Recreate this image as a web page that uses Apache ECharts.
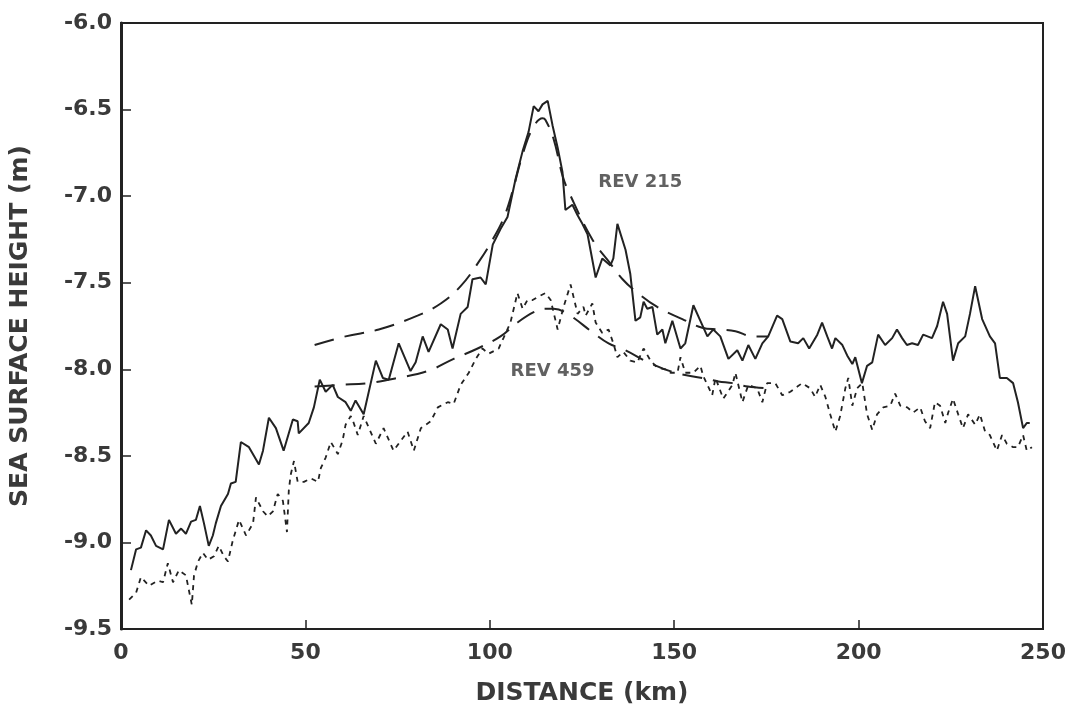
<!DOCTYPE html>
<html>
<head>
<meta charset="utf-8">
<script src="https://cdn.jsdelivr.net/npm/echarts@6/dist/echarts.min.js"></script>
<style>
html,body{margin:0;padding:0;background:#fff;}
#seaChart{width:1071px;height:711px;}
</style>
</head>
<body>
<div id="seaChart"></div>
<script>
// axis ticks
var xTicks = [0, 50, 100, 150, 200, 250];
var yTicks = [-9.5, -9.0, -8.5, -8.0, -7.5, -7.0, -6.5, -6.0];

// REV 215 altimeter track (solid)
var rev215Dist = [2.7,4.1,5.4,6.8,8.1,9.5,11.4,13.0,14.9,16.3,17.6,19.0,20.3,21.4,22.5,23.8,24.9,25.7,27.1,29.0,29.8,31.1,32.5,34.7,37.4,38.5,40.1,42.0,44.1,46.6,47.9,48.2,50.9,52.3,53.9,55.5,57.4,58.8,60.9,62.3,63.6,65.8,69.1,71.0,72.6,75.3,78.5,79.9,81.8,83.4,86.7,88.6,89.9,92.1,94.0,95.3,97.5,98.9,100.8,102.9,104.8,107.0,108.9,110.5,111.9,113.2,114.3,115.7,117.0,118.4,119.7,120.5,122.4,123.8,125.1,126.5,128.7,130.5,132.7,133.5,134.6,136.8,138.1,139.5,140.8,141.7,142.7,144.1,145.4,146.8,147.6,149.5,151.7,153.0,155.2,157.1,159.0,160.6,162.5,164.7,167.1,168.5,170.1,172.0,173.9,175.5,177.9,179.3,181.5,183.6,185.0,186.6,188.8,190.1,191.5,192.8,193.7,195.6,196.9,198.3,199.1,200.9,202.3,203.7,205.3,207.2,209.1,210.4,211.8,213.1,214.5,216.1,217.5,219.9,221.3,222.9,224.0,225.6,227.0,228.9,230.2,231.6,233.5,235.6,237.0,238.3,240.2,241.9,243.2,244.6,245.6,246.4];
var rev215Height = [-9.16,-9.04,-9.03,-8.93,-8.96,-9.02,-9.04,-8.87,-8.95,-8.92,-8.95,-8.88,-8.87,-8.79,-8.89,-9.02,-8.96,-8.89,-8.79,-8.72,-8.66,-8.65,-8.42,-8.45,-8.55,-8.47,-8.28,-8.34,-8.47,-8.29,-8.30,-8.37,-8.31,-8.22,-8.06,-8.13,-8.09,-8.16,-8.19,-8.24,-8.18,-8.26,-7.95,-8.05,-8.06,-7.85,-8.01,-7.96,-7.81,-7.90,-7.74,-7.77,-7.88,-7.68,-7.64,-7.48,-7.47,-7.51,-7.28,-7.19,-7.12,-6.90,-6.74,-6.63,-6.48,-6.51,-6.47,-6.45,-6.59,-6.72,-6.86,-7.08,-7.05,-7.11,-7.16,-7.22,-7.47,-7.36,-7.40,-7.36,-7.16,-7.31,-7.45,-7.72,-7.70,-7.61,-7.65,-7.64,-7.80,-7.77,-7.85,-7.72,-7.88,-7.85,-7.63,-7.72,-7.81,-7.77,-7.81,-7.94,-7.89,-7.95,-7.86,-7.94,-7.85,-7.81,-7.69,-7.71,-7.84,-7.85,-7.82,-7.88,-7.80,-7.73,-7.81,-7.88,-7.82,-7.86,-7.92,-7.97,-7.93,-8.08,-7.98,-7.96,-7.80,-7.86,-7.82,-7.77,-7.82,-7.86,-7.85,-7.86,-7.80,-7.82,-7.75,-7.61,-7.68,-7.95,-7.85,-7.81,-7.68,-7.52,-7.71,-7.81,-7.85,-8.05,-8.05,-8.08,-8.19,-8.34,-8.31,-8.31];

// REV 459 altimeter track (short dashes)
var rev459Dist = [2.2,4.1,5.4,7.6,10.0,11.4,12.7,14.1,15.7,17.6,19.2,19.8,20.9,22.2,23.6,25.2,26.5,27.9,29.0,30.3,32.0,33.9,35.8,36.6,38.5,39.8,41.2,42.5,43.9,45.0,45.5,46.0,46.9,47.9,49.6,51.5,53.4,54.2,55.5,56.9,58.8,60.1,60.9,62.3,63.1,64.2,65.8,69.1,71.2,73.9,77.7,79.4,81.3,84.0,85.9,88.6,90.2,92.1,94.3,96.2,98.0,99.7,102.4,103.7,105.6,107.5,108.9,110.2,111.6,113.2,115.1,116.5,118.4,120.0,121.9,123.8,125.4,126.0,127.8,128.7,130.5,132.2,133.5,134.6,136.2,138.1,140.0,141.7,143.6,145.4,147.6,149.0,150.9,151.7,153.0,155.2,157.1,157.9,160.3,161.2,163.3,165.8,166.6,168.5,170.1,172.5,173.9,175.2,177.4,179.3,181.5,183.4,184.7,186.9,188.2,189.6,191.0,192.3,193.7,195.0,196.4,197.2,198.3,199.6,201.0,202.3,203.7,205.0,206.7,208.6,209.9,211.3,213.2,214.8,216.7,218.0,219.4,220.7,222.1,223.5,224.3,225.6,227.0,228.3,229.7,231.6,232.9,234.3,235.6,237.5,238.9,240.2,241.9,243.2,244.6,245.6,247.0];
var rev459Height = [-9.33,-9.29,-9.20,-9.25,-9.22,-9.23,-9.12,-9.23,-9.16,-9.19,-9.36,-9.19,-9.11,-9.06,-9.10,-9.08,-9.02,-9.08,-9.11,-8.99,-8.87,-8.96,-8.89,-8.74,-8.82,-8.85,-8.82,-8.72,-8.76,-8.94,-8.70,-8.61,-8.53,-8.65,-8.65,-8.63,-8.65,-8.57,-8.51,-8.42,-8.49,-8.41,-8.32,-8.27,-8.31,-8.38,-8.27,-8.43,-8.34,-8.47,-8.36,-8.47,-8.34,-8.30,-8.22,-8.19,-8.20,-8.09,-8.02,-7.94,-7.88,-7.91,-7.88,-7.82,-7.73,-7.56,-7.65,-7.60,-7.60,-7.58,-7.56,-7.60,-7.77,-7.64,-7.51,-7.68,-7.64,-7.69,-7.62,-7.73,-7.79,-7.77,-7.85,-7.93,-7.90,-7.95,-7.96,-7.88,-7.95,-7.99,-8.00,-8.02,-8.02,-7.93,-8.02,-8.02,-7.98,-8.04,-8.15,-8.05,-8.17,-8.09,-8.02,-8.19,-8.09,-8.11,-8.19,-8.08,-8.08,-8.15,-8.13,-8.10,-8.08,-8.11,-8.16,-8.09,-8.16,-8.26,-8.36,-8.27,-8.11,-8.05,-8.21,-8.11,-8.08,-8.26,-8.35,-8.26,-8.22,-8.21,-8.14,-8.21,-8.22,-8.25,-8.22,-8.30,-8.34,-8.19,-8.21,-8.31,-8.25,-8.17,-8.26,-8.34,-8.26,-8.32,-8.26,-8.36,-8.38,-8.47,-8.38,-8.43,-8.45,-8.45,-8.38,-8.47,-8.45];

// model fits (long dashes)
var fit215Dist = [52.5,60.9,69.9,80.4,86.7,92.1,97.0,100.8,103.7,106.2,108.9,111.6,114.3,115.1,117.3,119.7,121.3,127.8,132.7,136.0,139.0,145.4,152.2,157.6,162.0,166.6,171.4,175.5];
var fit215Height = [-7.86,-7.81,-7.77,-7.69,-7.62,-7.52,-7.38,-7.25,-7.13,-6.97,-6.76,-6.61,-6.55,-6.56,-6.67,-6.88,-6.97,-7.25,-7.39,-7.48,-7.54,-7.64,-7.71,-7.76,-7.77,-7.78,-7.81,-7.81];
var fit459Dist = [52.5,59.6,66.9,75.0,83.2,90.2,96.7,102.9,107.5,111.9,115.0,117.3,121.1,128.1,132.2,136.8,143.0,150.3,157.6,162.0,165.8,170.0,175.5];
var fit459Height = [-8.10,-8.09,-8.08,-8.05,-8.01,-7.94,-7.88,-7.81,-7.73,-7.67,-7.65,-7.65,-7.68,-7.79,-7.85,-7.89,-7.96,-8.02,-8.05,-8.07,-8.08,-8.10,-8.11];

// curve labels
var curveNames = ['REV 215', 'REV 459'];
var curveLabelAt = [[140.8, -6.92], [117.0, -8.01]];

function pairs(xs, ys){
    var out = [];
    for(var i=0; i<xs.length; i++){
        out.push([xs[i], ys[i]]);
    }
    return out;
}

var ink = '#222';
var textInk = '#3a3a3a';
var font = 'DejaVu Sans, Verdana, sans-serif';

var diagram = echarts.init(document.getElementById('seaChart'));

var option = {
    backgroundColor: '#ffffff',
    animation: false,
    grid: {
        left: 120,
        right: 28,
        top: 23,
        bottom: 74,
        show: true,
        borderColor: ink,
        borderWidth: 2
    },
    xAxis: {
        type: 'value',
        min: xTicks[0],
        max: xTicks[xTicks.length-1],
        interval: 50,
        name: 'DISTANCE (km)',
        nameLocation: 'middle',
        nameGap: 52,
        nameTextStyle: { color: textInk, fontSize: 25, fontWeight: 'bold', fontFamily: font },
        axisLine: { lineStyle: { color: ink, width: 2 } },
        axisTick: { inside: true, length: 9, lineStyle: { color: ink, width: 1.5 } },
        axisLabel: { color: textInk, fontSize: 22, fontWeight: 'bold', margin: 13, fontFamily: font },
        splitLine: { show: false }
    },
    yAxis: {
        type: 'value',
        min: yTicks[0],
        max: yTicks[yTicks.length-1],
        interval: 0.5,
        name: 'SEA SURFACE HEIGHT (m)',
        nameLocation: 'middle',
        nameGap: 88,
        nameTextStyle: { color: textInk, fontSize: 25, fontWeight: 'bold', fontFamily: font },
        axisLine: { lineStyle: { color: ink, width: 3 } },
        axisTick: { inside: true, length: 10, lineStyle: { color: ink, width: 1.5 } },
        axisLabel: {
            color: textInk, fontSize: 22, fontWeight: 'bold', margin: 9, fontFamily: font,
            formatter: function(v){ return v.toFixed(1); }
        },
        splitLine: { show: false }
    },
    series: [
        {
            name: 'REV 215',
            type: 'line',
            data: pairs(rev215Dist, rev215Height),
            showSymbol: false,
            lineStyle: { color: ink, width: 2 },
            z: 3
        },
        {
            name: 'REV 459',
            type: 'line',
            data: pairs(rev459Dist, rev459Height),
            showSymbol: false,
            lineStyle: { color: ink, width: 1.8, type: [5, 5] },
            z: 3
        },
        {
            name: 'fit 215',
            type: 'line',
            smooth: 0.4,
            data: pairs(fit215Dist, fit215Height),
            showSymbol: false,
            lineStyle: { color: ink, width: 2, type: [20, 11] },
            z: 2
        },
        {
            name: 'fit 459',
            type: 'line',
            smooth: 0.4,
            data: pairs(fit459Dist, fit459Height),
            showSymbol: false,
            lineStyle: { color: ink, width: 2, type: [20, 11] },
            z: 2
        },
        {
            name: 'labels',
            type: 'scatter',
            symbolSize: 0,
            data: curveLabelAt.map(function(p, i){
                return { value: p, label: { formatter: curveNames[i] } };
            }),
            label: {
                show: true,
                position: 'inside',
                color: textInk,
                fontSize: 18,
                fontWeight: 'bold',
                fontFamily: font
            },
            z: 5
        }
    ]
};
diagram.setOption(option);
</script>
</body>
</html>
